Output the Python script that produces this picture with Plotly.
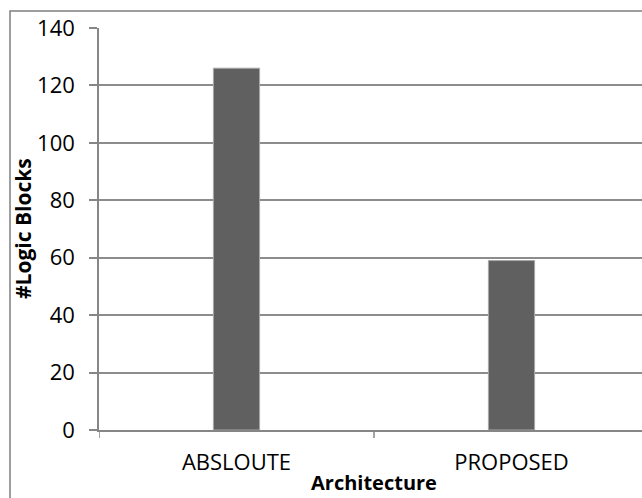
import plotly.graph_objects as go

categories = ["ABSLOUTE", "PROPOSED"]
values = [126, 59]
y_ticks = [0, 20, 40, 60, 80, 100, 120, 140]

W, H = 642, 498
L, R, T, B = 99, 0, 28, 68
pw, ph = W - L - R, H - T - B
cat_px = 275.0

fig = go.Figure(go.Bar(
    x=[0, 1], y=values, width=0.168,
    marker=dict(color="#606060", line=dict(color="#a8a8a8", width=1)),
))

fig.update_layout(
    width=W, height=H, margin=dict(l=L, r=R, t=T, b=B),
    paper_bgcolor="white", plot_bgcolor="white",
    font=dict(family="Open Sans", color="black"),
    showlegend=False,
    xaxis=dict(
        range=[-0.5, -0.5 + pw / cat_px],
        tickmode="array", tickvals=[0, 1], ticktext=categories,
        showgrid=False, showline=True, linecolor="#868686", linewidth=1.5,
        ticks="", tickfont=dict(size=22), ticklabelstandoff=12,
        zeroline=False,
    ),
    yaxis=dict(
        range=[0, 140], tickmode="array", tickvals=y_ticks,
        showgrid=True, gridcolor="#8c8c8c", gridwidth=1.5,
        showline=True, linecolor="#868686", linewidth=1.5,
        ticks="outside", ticklen=8, tickcolor="#868686", tickwidth=1.5,
        tickfont=dict(size=22), ticklabelstandoff=10, zeroline=False,
    ),
)

# x tick marks at category boundaries
for xb in [-0.5, 0.5]:
    fig.add_shape(type="line", xref="x", yref="paper", x0=xb, x1=xb,
                  y0=0, y1=-8 / ph, line=dict(color="#868686", width=1.5))

# outer frame
fig.add_shape(type="rect", xref="paper", yref="paper",
              x0=(10 - L) / pw, x1=1.05, y0=-0.3, y1=1 + (T - 11) / ph,
              line=dict(color="#7f7f7f", width=1.5), fillcolor="rgba(0,0,0,0)")

fig.add_annotation(text="<b>Architecture</b>", xref="paper", yref="paper",
                   x=(374 - L) / pw, y=-(497 - (T + ph)) / ph, showarrow=False,
                   font=dict(size=20), xanchor="center", yanchor="bottom",
                   borderpad=0)
fig.add_annotation(text="<b>#Logic Blocks</b>", xref="paper", yref="paper",
                   x=(23 - L) / pw, y=0.5, showarrow=False, textangle=-90,
                   font=dict(size=21), xanchor="center", yanchor="middle")

fig.write_html("out.html")
